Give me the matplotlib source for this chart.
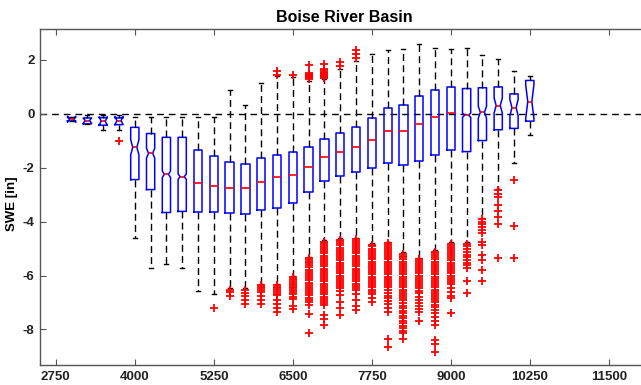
import matplotlib
matplotlib.use("Agg")
import matplotlib.pyplot as plt

# Elevation bands (ft) and SWE difference summary statistics (in)
elevation = [3000, 3250, 3500, 3750, 4000, 4250, 4500, 4750, 5000, 5250,
             5500, 5750, 6000, 6250, 6500, 6750, 7000, 7250, 7500, 7750,
             8000, 8250, 8500, 8750, 9000, 9250, 9500, 9750, 10000, 10250]
whisker_low = [-0.27, -0.38, -0.61, -0.61, -4.62, -5.73, -5.58, -5.73, -6.59, -6.69,
               -6.48, -6.47, -6.30, -6.30, -6.00, -5.30, -4.68, -4.62, -4.60, -4.80,
               -4.74, -5.14, -5.34, -5.05, -4.77, -4.76, -3.86, -2.80, -1.82, -0.79]
quartile_1 = [-0.26, -0.37, -0.42, -0.40, -2.44, -2.81, -3.66, -3.62, -3.66, -3.66,
              -3.69, -3.73, -3.55, -3.51, -3.30, -2.89, -2.48, -2.30, -2.16, -2.02,
              -1.81, -1.88, -1.76, -1.51, -1.35, -1.40, -0.99, -0.59, -0.54, -0.27]
median = [-0.20, -0.25, -0.27, -0.25, -1.24, -1.46, -2.24, -2.33, -2.57, -2.68,
          -2.74, -2.76, -2.54, -2.34, -2.26, -1.97, -1.60, -1.40, -1.23, -0.97,
          -0.65, -0.62, -0.36, -0.13, 0.04, -0.05, 0.06, 0.31, 0.23, 0.45]
quartile_3 = [-0.14, -0.15, -0.14, -0.15, -0.50, -0.73, -0.87, -0.87, -1.35, -1.57,
              -1.77, -1.85, -1.64, -1.52, -1.41, -1.23, -0.93, -0.72, -0.48, -0.16,
              0.20, 0.33, 0.68, 0.90, 1.00, 0.94, 0.97, 1.00, 0.74, 1.24]
whisker_high = [-0.13, -0.06, -0.05, -0.05, -0.10, -0.10, -0.10, -0.10, -0.10, -0.12,
                0.90, 0.33, 1.16, 1.40, 1.38, 1.22, 1.30, 1.65, 1.98, 2.24,
                2.38, 2.42, 2.61, 2.43, 2.42, 2.45, 2.20, 2.02, 1.58, 1.40]
notch_low = [-0.31, -0.34, -0.43, -0.40, -1.52, -1.64, -2.36, -2.43, -2.57, -2.68,
             -2.74, -2.76, -2.54, -2.34, -2.26, -1.97, -1.60, -1.40, -1.23, -0.97,
             -0.65, -0.62, -0.36, -0.13, 0.04, -0.13, -0.16, 0.03, -0.07, -0.17]
notch_high = [-0.09, -0.16, -0.11, -0.10, -0.96, -1.28, -2.12, -2.23, -2.57, -2.68,
              -2.74, -2.76, -2.54, -2.34, -2.26, -1.97, -1.60, -1.40, -1.23, -0.97,
              -0.65, -0.62, -0.36, -0.13, 0.04, 0.03, 0.28, 0.59, 0.53, 1.08]
notched = [3000, 3250, 3500, 3750, 4000, 4250, 4500, 4750,
           9250, 9500, 9750, 10000, 10250]

upper_outliers = {
    6250: [1.46, 1.58],
    6500: [1.43],
    6750: [1.28, 1.32, 1.36, 1.40, 1.44, 1.48, 1.52, 1.80],
    7000: [1.34, 1.37, 1.41, 1.45, 1.49, 1.53, 1.57, 1.61, 1.65, 1.86],
    7250: [1.77, 1.92],
    7500: [2.08, 2.24, 2.36],
}
lower_outliers = {
    3750: [-0.99],
    5250: [-7.19],
    5500: [-6.55, -6.62, -6.75],
    5750: [-6.55, -6.65, -6.75, -6.90, -7.05],
    6000: [-6.36, -6.42, -6.48, -6.55, -6.62, -6.75, -6.90, -7.05],
    6250: [-6.35, -6.41, -6.47, -6.53, -6.60, -6.67, -6.74, -6.90, -7.05,
           -7.21, -7.34],
    6500: [-6.06, -6.12, -6.18, -6.24, -6.30, -6.36, -6.42, -6.48, -6.55,
           -6.62, -6.70, -6.78, -6.86, -7.13, -7.24],
    6750: [-5.36, -5.42, -5.48, -5.55, -5.62, -5.70, -5.78, -5.86, -5.94,
           -6.02, -6.10, -6.18, -6.26, -6.34, -6.42, -6.50, -6.58, -6.66,
           -6.74, -6.82, -6.90, -6.98, -7.08, -7.43, -8.14],
    7000: [-4.74, -4.80, -4.87, -4.94, -5.02, -5.10, -5.18, -5.26, -5.34,
           -5.42, -5.50, -5.58, -5.66, -5.74, -5.82, -5.90, -5.98, -6.06,
           -6.14, -6.22, -6.30, -6.38, -6.46, -6.54, -6.62, -6.70, -6.78,
           -6.86, -6.94, -7.02, -7.09, -7.46, -7.62, -7.83],
    7250: [-4.67, -4.73, -4.80, -4.88, -4.96, -5.04, -5.12, -5.20, -5.28,
           -5.36, -5.44, -5.52, -5.60, -5.68, -5.76, -5.84, -5.92, -6.00,
           -6.08, -6.16, -6.24, -6.32, -6.40, -6.48, -6.56, -6.72, -6.97,
           -7.21, -7.46],
    7500: [-4.65, -4.71, -4.78, -4.86, -4.94, -5.02, -5.10, -5.18, -5.26,
           -5.34, -5.42, -5.50, -5.58, -5.66, -5.74, -5.82, -5.90, -5.98,
           -6.06, -6.14, -6.22, -6.30, -6.38, -6.46, -6.53, -6.70, -6.90,
           -7.13, -7.28],
    7750: [-4.86, -4.92, -5.00, -5.08, -5.16, -5.24, -5.32, -5.40, -5.48,
           -5.56, -5.64, -5.72, -5.80, -5.88, -5.96, -6.04, -6.12, -6.20,
           -6.28, -6.36, -6.44, -6.52, -6.60, -6.70, -6.84, -6.97],
    8000: [-4.80, -4.86, -4.93, -5.00, -5.08, -5.16, -5.24, -5.32, -5.40,
           -5.48, -5.56, -5.64, -5.72, -5.80, -5.88, -5.96, -6.04, -6.12,
           -6.20, -6.28, -6.36, -6.44, -6.55, -6.65, -6.75, -6.85, -6.95,
           -7.05, -7.20, -7.34, -8.36, -8.64],
    8250: [-5.20, -5.26, -5.33, -5.40, -5.48, -5.56, -5.64, -5.72, -5.80,
           -5.88, -5.96, -6.04, -6.12, -6.20, -6.28, -6.36, -6.44, -6.52,
           -6.60, -6.68, -6.76, -6.84, -6.90, -7.03, -7.12, -7.21, -7.30,
           -7.40, -7.50, -7.58, -7.68, -7.77, -7.86, -7.96, -8.05, -8.14,
           -8.36],
    8500: [-5.39, -5.45, -5.52, -5.60, -5.68, -5.76, -5.84, -5.92, -6.00,
           -6.08, -6.16, -6.24, -6.32, -6.40, -6.48, -6.56, -6.65, -6.78,
           -6.90, -7.02, -7.14, -7.24, -7.34, -7.67],
    8750: [-5.11, -5.17, -5.24, -5.32, -5.40, -5.48, -5.56, -5.64, -5.72,
           -5.80, -5.88, -5.96, -6.04, -6.12, -6.20, -6.28, -6.36, -6.44,
           -6.52, -6.60, -6.68, -6.76, -6.84, -6.92, -7.00, -7.08, -7.15,
           -7.27, -7.40, -7.55, -7.70, -7.83, -8.39, -8.55, -8.82],
    9000: [-4.83, -4.89, -4.96, -5.04, -5.12, -5.20, -5.28, -5.36, -5.44,
           -5.52, -5.60, -5.68, -5.76, -5.84, -5.92, -6.00, -6.08, -6.16,
           -6.24, -6.32, -6.45, -6.60, -6.75, -6.84, -7.40],
    9250: [-4.82, -4.92, -5.02, -5.12, -5.22, -5.32, -5.42, -5.52, -5.62,
           -5.72, -6.20, -6.65],
    9500: [-3.90, -4.00, -4.10, -4.20, -4.32, -4.42, -4.74, -4.86, -5.23,
           -5.42, -5.79, -6.20],
    9750: [-2.84, -2.96, -3.10, -3.37, -3.59, -3.84, -4.09, -5.35],
    10000: [-2.47, -4.17, -5.36],
}

xticks = [2750, 4000, 5250, 6500, 7750, 9000, 10250, 11500]
yticks = [-8, -6, -4, -2, 0, 2]

plt.rcParams["font.family"] = ["Liberation Sans", "DejaVu Sans"]
plt.rcParams["axes.unicode_minus"] = False

fig = plt.figure(figsize=(6.41, 3.85), dpi=100)
ax = fig.add_axes([40 / 641, 20 / 385, 608 / 641, 336 / 385])


def box_stats(i):
    x = elevation[i]
    return dict(med=median[i], q1=quartile_1[i], q3=quartile_3[i],
                whislo=whisker_low[i], whishi=whisker_high[i],
                cilo=notch_low[i], cihi=notch_high[i],
                fliers=lower_outliers.get(x, []) + upper_outliers.get(x, []))


style = dict(
    widths=130,
    boxprops=dict(color="#0000ff", linewidth=1.1),
    whiskerprops=dict(color="black", linewidth=1.0, linestyle=(0, (5, 3))),
    capprops=dict(color="black", linewidth=1.0),
    medianprops=dict(color="#ff0000", linewidth=1.2),
    flierprops=dict(marker="+", markeredgecolor="#ff0000", markersize=5.5,
                    markeredgewidth=1.3, linestyle="none"),
    manage_ticks=False,
)

for with_notch in (True, False):
    idx = [i for i, x in enumerate(elevation) if (x in notched) == with_notch]
    ax.bxp([box_stats(i) for i in idx],
           positions=[elevation[i] for i in idx],
           capwidths=[62] * len(idx),
           shownotches=with_notch, **style)

ax.axhline(0, color="black", linewidth=1.0, linestyle=(0, (4.8, 3.6)), zorder=1.5)

ax.set_xlim(2500, 12120)
ax.set_ylim(-9.32, 3.15)
ax.set_xticks(xticks)
ax.set_xticklabels([str(t) for t in xticks])
ax.set_yticks(yticks)
ax.tick_params(direction="in", length=4, width=0.8, color="#555555",
               top=True, right=True, labelsize=9.5, pad=4)
for lab in ax.get_xticklabels() + ax.get_yticklabels():
    lab.set_fontweight("bold")
    lab.set_color("#222222")
for sp in ax.spines.values():
    sp.set_color("#555555")
    sp.set_linewidth(1.0)

ax.set_title("Boise River Basin", fontsize=11.5, fontweight="bold", pad=5)
ax.set_ylabel("SWE [in]", fontsize=9.5, fontweight="bold")
ax.yaxis.set_label_coords(-0.036, 0.48)

fig.savefig("out.png", dpi=100)
